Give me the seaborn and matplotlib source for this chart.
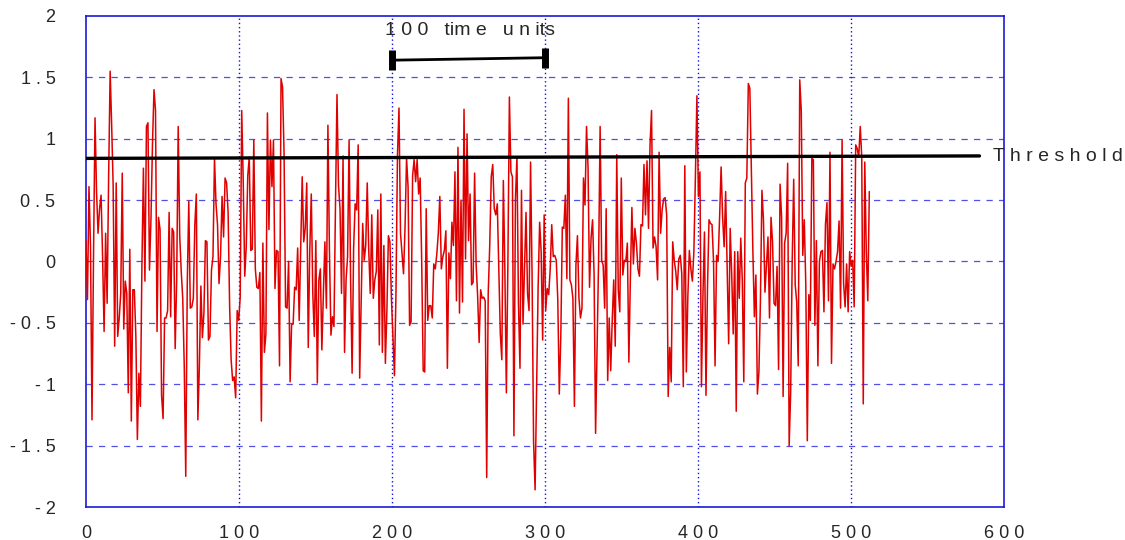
import numpy as np
import pandas as pd
import matplotlib
matplotlib.use("Agg")
import matplotlib.pyplot as plt
import seaborn as sns

# signal, split into segments of roughly 60 samples
seg1 = [0.17, -0.31, 0.61, 0.13, -1.29, 0.04, 1.17, 0.57, 0.23, 0.43, 0.54, 0.04, -0.57, 0.23, -0.34,
        0.69, 1.55, 1.11, 0.61, -0.69, 0.64, -0.61, -0.46, -0.26, 0.72, -0.55, -0.16, -0.26, -1.07, 0.10,
        -1.30, -0.23, -0.23, -0.61, -1.45, -0.91, -1.18, -0.04, 0.76, -0.16, 1.10, 1.13, -0.07, 0.35, 0.96,
        1.40, 1.23, -0.57, 0.36, 0.26, -1.09, -1.28, -0.46, -0.46, -0.40, 0.40, -0.45, 0.27, 0.24, -0.71]
seg2 = [-0.15, 1.10, 0.21, -0.08, -0.30, -0.85, -1.75, -0.18, 0.49, -0.38, -0.37, -0.30, 0.30, 0.55, -1.29,
        -0.85, -0.20, -0.62, -0.42, 0.17, 0.16, -0.64, -0.61, -0.07, 0.04, 0.84, 0.47, 0.30, -0.18, 0.04,
        0.53, 0.20, 0.68, 0.64, 0.40, -0.36, -0.80, -0.97, -0.94, -1.11, -0.40, -0.48, -0.29, 1.23, 0.65,
        -0.12, 0.12, 0.70, 0.85, 0.09, 0.10, 0.99, -0.06, -0.21, -0.22, -0.09, -1.30, 0.15, -0.74, -0.59,
        1.21, 0.26, 0.99]
seg3 = [0.61, 0.99, -0.22, 0.09, 0.08, -0.85, 1.49, 1.42, 0.88, -0.37, -0.38, 0.00, -0.98, -0.51, -0.51,
        -0.21, -0.23, 0.11, -0.48, 0.12, 0.69, 0.16, 0.27, 0.64, -0.70, 0.09, 0.55, -0.26, -0.61, 0.17,
        -0.99, -0.15, -0.06, -0.72, -0.26, 0.16, -0.38, 1.11, 0.09, -0.60, -0.45, -0.53, 0.46, 1.36, 0.62,
        0.43, -0.26, 0.86, -0.74, -0.15, 0.04, 0.99, -0.15, -0.91, 0.11, 0.47, 0.42, 0.95, -0.95, -0.30,
        0.31]
seg4 = [0.01, 0.13, 0.64, 0.09, -0.26, 0.38, -0.30, -0.15, -0.08, 0.42, -0.68, 0.55, -0.74, 0.13, -0.83,
        -0.40, 0.21, 0.16, -0.30, -0.61, -0.93, -0.26, 0.87, 1.25, 0.23, 0.07, -0.10, 0.28, 0.84, 0.61,
        -0.52, -0.49, 0.70, 0.83, 0.65, 0.83, 0.55, 0.68, 0.01, -0.89, -0.90, 0.43, -0.48, -0.36, -0.36,
        -0.46, -0.02, -0.06, 0.06, 0.23, 0.53, -0.06, 0.04, 0.09, 0.25, -0.87, 0.07, -0.14, 0.32, 0.13,
        0.73, -0.32]
seg5 = [0.93, -0.42, 0.50, -0.33, 1.24, 0.02, 1.04, 0.17, 0.55, -0.19, -0.17, 0.72, -0.02, -0.28, -0.66,
        -0.23, -0.30, -0.29, -0.32, -1.76, -0.26, 0.13, 0.69, 0.79, 0.43, 0.38, 0.47, -0.06, -0.59, -0.80,
        0.66, -0.06, -1.07, -0.02, 1.34, 0.73, 0.69, -1.42, 0.51, 0.85, -0.34, -0.87, 0.58, -0.51, -0.04,
        0.40, -0.26, -0.40, 0.81, -0.11, -1.47, -1.86, -1.02, -0.21, 0.32, 0.08, -0.64, 0.38, -0.40, -0.22,
        -0.27, -0.06, 0.30, 0.04]
seg6 = [0.05, 0.01, -0.31, -1.08, -0.61, 0.28, 0.27, 0.54, -0.14, 1.33, -0.15, -0.19, -0.30, -1.18, -0.03,
        0.21, -0.30, -0.46, -0.38, 0.68, 0.46, 1.10, 0.77, -0.21, 0.19, 0.34, -0.10, -1.40, -0.68, 0.02,
        1.10, 0.01, -0.03, -0.38, 0.43, -0.97, -0.46, -0.89, -0.48, -0.15, -0.69, 0.87, -0.23, -0.41, 0.68,
        -0.11, 0.01, 0.00, 0.15, -0.82, -0.14, 0.44, -0.02, 0.27, 0.15, -0.06, -0.12, 0.30, 0.29, 0.79,
        0.38, 0.82, 0.27, 0.95]
seg7 = [1.23, 0.11, 0.20, 0.12, -0.15, 0.89, 0.23, 0.42, 0.51, 0.52, 0.38, -1.10, -0.70, -0.98, 0.16,
        0.01, -0.08, -0.23, 0.02, 0.05, -0.10, -1.02, 0.78, -0.90, -0.29, 0.09, -0.06, -0.16, 0.08, 0.69,
        1.35, 0.53, 0.73, -1.02, -0.27, 0.24, -1.09, -0.21, 0.34, 0.31, 0.30, 0.00, -0.85, 0.05, 0.00,
        0.36, 0.77, 0.36, 0.12, 0.57, -0.06, -0.67, 0.27, -0.10, -0.59, 0.08, -1.22, 0.08, -0.30, 0.19,
        -0.15, -0.98, 0.64]
seg8 = [0.68, 1.45, 1.41, 0.73, 0.09, -0.45, -0.11, -1.08, -0.90, -0.32, 0.58, 0.34, -0.25, -0.02, 0.20,
        -0.46, 0.36, 0.16, -0.34, -0.36, -0.04, -0.88, 0.63, 0.36, -1.10, 0.15, 0.23, 0.80, -1.50, -1.06,
        0.00, 0.67, -0.19, -0.33, -0.85, 1.48, 1.23, 0.05, 0.34, -0.19, -1.46, -0.27, -0.48, 0.84, 0.83,
        -0.52, 0.17, -0.85, 0.00, 0.08, 0.09, -0.41, 0.30, 0.48, -0.32, 0.89, -0.83, -0.02, -0.06, 0.00,
        0.08, 0.33, -0.38, 0.99]
seg9 = [-0.18, -0.37, -0.02, -0.41, 0.08, -0.04, 0.01, -0.37, 0.95, 0.92, 0.85, 1.10, 0.85, -1.16, 0.81,
        0.08, -0.32, 0.57]

t_end = 512
threshold = [0.84, 0.86]
threshold_t = [0, 584]
scale_t = [200, 300]
scale_y = [1.64, 1.66]

x_ticks = [0, 100, 200, 300, 400, 500, 600]
x_labels = ["0", "1 0 0", "2 0 0", "3 0 0", "4 0 0", "5 0 0", "6 0 0"]
y_ticks = [-2, -1.5, -1, -0.5, 0, 0.5, 1, 1.5, 2]
y_labels = ["- 2", "- 1 . 5", "- 1", "- 0 . 5", "0", "0 . 5", "1", "1 . 5", "2"]

values = np.concatenate([seg1, seg2, seg3, seg4, seg5, seg6, seg7, seg8, seg9])
df = pd.DataFrame({"t": np.linspace(0, t_end, len(values)), "v": values})

sns.set_style("white")
plt.rcParams["font.family"] = ["Liberation Sans", "DejaVu Sans"]

fig = plt.figure(figsize=(11.25, 5.4), dpi=100)
ax = fig.add_axes([0.0764, 0.0611, 0.8160, 0.9093])

blue = "#1a1ad6"
for y in y_ticks[1:-1]:
    ax.axhline(y, color="#5050e8", lw=0.9, ls=(0, (5, 5)), zorder=0)
for x in x_ticks[1:-1]:
    ax.axvline(x, color="#1010e0", lw=1.0, ls=(0, (1, 2)), zorder=0)

sns.lineplot(data=df, x="t", y="v", ax=ax, color="#e00000", lw=1.1, zorder=3)

ax.plot(threshold_t, threshold, color="black", lw=2.4, zorder=4)
ax.text(593, 0.855, "T h r e s h o l d", fontsize=14, va="center", ha="left", clip_on=False)

ax.plot(scale_t, scale_y, color="black", lw=2, zorder=4)
ax.plot(scale_t, scale_y, ls="none", marker="|", ms=15, mew=5, color="black", zorder=4)
ax.text(251, 1.88, "1 0 0   tim e   u n its", fontsize=14, ha="center", va="center")

ax.set_xlim(0, 600)
ax.set_ylim(-2, 2)
ax.set_xticks(x_ticks, x_labels, fontsize=13)
ax.set_yticks(y_ticks, y_labels, fontsize=13)
ax.tick_params(length=0)
ax.tick_params(axis="x", pad=13)
ax.tick_params(axis="y", pad=22)
ax.set_xlabel("")
ax.set_ylabel("")
for s in ax.spines.values():
    s.set_color(blue)
    s.set_linewidth(1.2)

fig.savefig("out.png", dpi=100)
